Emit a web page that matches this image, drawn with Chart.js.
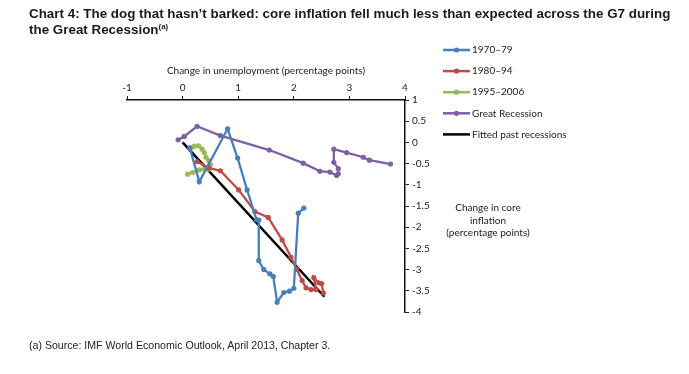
<!DOCTYPE html>
<html>
<head>
<meta charset="utf-8">
<script src="https://cdn.jsdelivr.net/npm/chart.js@4"></script>
<style>
  html, body { margin: 0; padding: 0; background: #fff; }
  #wrap { position: relative; width: 689px; height: 374px; overflow: hidden; }
  #c { position: absolute; left: 0; top: 0; }
  #title { position: absolute; left: 29px; top: 6px; font: bold 13.4px "Liberation Sans", Arial, sans-serif; line-height: 16px; color: #1a1a1a; white-space: nowrap; }
  #title sup { font-size: 8px; vertical-align: 5px; line-height: 0; }
  #note { position: absolute; left: 29px; top: 339px; font: 10.6px "Liberation Sans", Arial, sans-serif; color: #222; white-space: nowrap; }
</style>
</head>
<body>
<div id="wrap">
  <canvas id="c" width="689" height="374"></canvas>
  <div id="title">Chart 4: The dog that hasn’t barked: core inflation fell much less than expected across the G7 during<br>the Great Recession<sup>(a)</sup></div>
  <div id="note">(a) Source: IMF World Economic Outlook, April 2013, Chapter 3.</div>
</div>
<script>
// Series labels
const seriesNames = ['1970–79', '1980–94', '1995–2006', 'Great Recession', 'Fitted past recessions'];

// Change in unemployment (x) and change in core inflation (y), percentage points
const u1970s  = [0.13, 0.30, 0.81, 0.99, 1.16, 1.33, 1.37, 1.37, 1.46, 1.57, 1.63, 1.70, 1.82, 1.92, 2.00, 2.08, 2.18];
const pi1970s = [-0.13, -0.93, 0.32, -0.37, -1.12, -1.82, -1.83, -2.79, -3.00, -3.10, -3.16, -3.77, -3.54, -3.51, -3.44, -1.67, -1.55];

const u1980s  = [0.26, 0.47, 0.68, 1.01, 1.30, 1.54, 1.79, 1.95, 2.05, 2.15, 2.22, 2.31, 2.40, 2.36, 2.45, 2.50, 2.53];
const pi1980s = [-0.45, -0.60, -0.67, -1.12, -1.63, -1.77, -2.30, -2.71, -2.99, -3.26, -3.43, -3.47, -3.47, -3.19, -3.31, -3.33, -3.55];

const u1995s  = [0.15, 0.21, 0.29, 0.35, 0.39, 0.42, 0.47, 0.50, 0.48, 0.39, 0.30, 0.18, 0.09];
const pi1995s = [-0.13, -0.09, -0.08, -0.16, -0.24, -0.35, -0.43, -0.53, -0.63, -0.63, -0.65, -0.71, -0.75];

const uGreat  = [-0.08, 0.03, 0.26, 0.68, 1.56, 2.17, 2.47, 2.65, 2.77, 2.80, 2.80, 2.72, 2.72, 2.95, 3.25, 3.36, 3.74];
const piGreat = [0.06, 0.14, 0.38, 0.16, -0.18, -0.49, -0.68, -0.70, -0.78, -0.74, -0.62, -0.47, -0.16, -0.24, -0.35, -0.42, -0.51];

const uFit  = [0, 2.55];
const piFit = [0, -3.64];

// Axis tick settings
const xTicks = [-1, 0, 1, 2, 3, 4];
const yTicks = [1, 0.5, 0, -0.5, -1, -1.5, -2, -2.5, -3, -3.5, -4];

const colors = ['#4a7ebb', '#be4b48', '#98b954', '#7d60a0', '#000000'];

function pts(xs, ys) { return xs.map((x, i) => ({ x: x, y: ys[i] })); }

const seriesData = [pts(u1970s, pi1970s), pts(u1980s, pi1980s), pts(u1995s, pi1995s), pts(uGreat, piGreat), pts(uFit, piFit)];

const datasets = seriesData.map((d, i) => ({
  label: seriesNames[i],
  data: d,
  showLine: true,
  borderColor: colors[i],
  backgroundColor: colors[i],
  borderWidth: i === 4 ? 2.5 : 2.3,
  pointRadius: i === 4 ? 0 : 2.6,
  pointHoverRadius: i === 4 ? 0 : 2.6,
  pointBorderWidth: 0,
  tension: 0
}));

const FONT = 'Lato, "Open Sans", sans-serif';
const FS = 10;

const extras = {
  id: 'extras',
  afterDraw(chart) {
    const ctx = chart.ctx;
    ctx.save();
    // legend
    const y0 = 50, dy = 21.1;
    ctx.font = FS + 'px ' + FONT;
    ctx.textBaseline = 'middle';
    ctx.textAlign = 'left';
    datasets.forEach((ds, i) => {
      const y = y0 + i * dy;
      ctx.strokeStyle = ds.borderColor;
      ctx.lineWidth = 2.5;
      ctx.beginPath();
      ctx.moveTo(443, y);
      ctx.lineTo(470, y);
      ctx.stroke();
      if (ds.pointRadius > 0) {
        ctx.fillStyle = ds.borderColor;
        ctx.beginPath();
        ctx.arc(456.5, y, 2.6, 0, Math.PI * 2);
        ctx.fill();
      }
      ctx.fillStyle = '#222';
      ctx.fillText(ds.label, 472, y);
    });
    // y axis title (horizontal, three lines)
    ctx.textAlign = 'center';
    ctx.fillStyle = '#222';
    ['Change in core', 'inflation', '(percentage points)'].forEach((t, i) => {
      ctx.fillText(t, 488, 208 + i * 12.5);
    });
    ctx.restore();
  }
};

new Chart(document.getElementById('c'), {
  type: 'scatter',
  data: { datasets: datasets },
  options: {
    responsive: false,
    animation: false,
    events: [],
    layout: { padding: { left: 127, top: 65, right: 0, bottom: 62 } },
    plugins: { legend: { display: false }, tooltip: { enabled: false } },
    scales: {
      x: {
        type: 'linear',
        position: 'top',
        min: -1, max: 4,
        afterBuildTicks: (s) => { s.ticks = xTicks.map(v => ({ value: v })); },
        afterFit: (s) => { s.height = 35; },
        grid: { drawOnChartArea: false, drawTicks: true, tickLength: 4, color: '#222', lineWidth: 1 },
        border: { display: true, color: '#111', width: 1.5 },
        ticks: { color: '#222', font: { family: FONT, size: FS }, padding: 2, maxRotation: 0, callback: (v) => String(v) },
        title: { display: true, text: 'Change in unemployment (percentage points)', color: '#222', font: { family: FONT, size: FS }, padding: { top: 0, bottom: 2 } }
      },
      y: {
        type: 'linear',
        position: 'right',
        min: -4, max: 1,
        afterBuildTicks: (s) => { s.ticks = yTicks.map(v => ({ value: v })); },
        afterFit: (s) => { s.width = 284; },
        grid: { drawOnChartArea: false, drawTicks: true, tickLength: 4, color: '#222', lineWidth: 1 },
        border: { display: true, color: '#111', width: 1.5 },
        ticks: { color: '#222', font: { family: FONT, size: FS }, padding: 3, callback: (v) => String(v) }
      }
    }
  },
  plugins: [extras]
});
</script>
</body>
</html>
